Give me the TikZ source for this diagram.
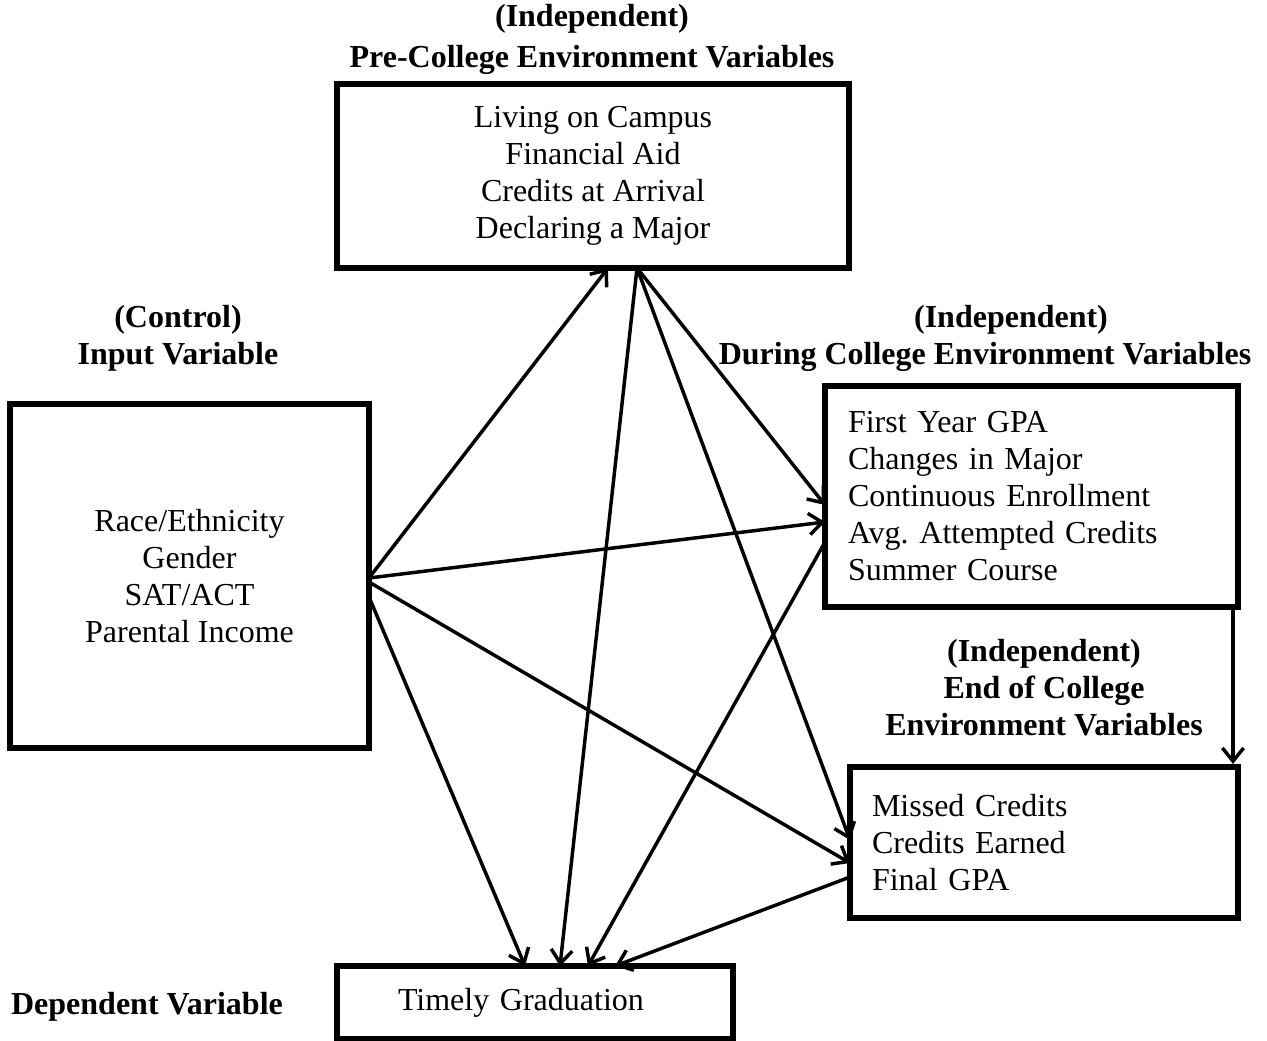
\documentclass[tikz,border=0pt]{standalone}
\usepackage{fontspec}
\setmainfont{Liberation Serif}
\usetikzlibrary{arrows.meta,calc}
\begin{document}
\frenchspacing
\begin{tikzpicture}[x=0.75pt,y=-0.75pt,
  box/.style={draw, line width=4pt, outer sep=0pt, inner sep=0pt,
    font=\fontsize{24}{27.75}\selectfont, align=center},
  ttl/.style={font=\fontsize{24}{27.75}\selectfont\bfseries, align=center, inner sep=0pt},
  arr/.style={line width=2.6pt, -{Straight Barb[length=10pt,width=16pt]}}]
\useasboundingbox (0,0) rectangle (1267,1041);
% boxes
\node[box, minimum width=384pt, minimum height=138pt] (pre) at (593,176)
  {Living on Campus\\Financial Aid\\Credits at Arrival\\Declaring a Major};
\node[box, minimum width=269.25pt, minimum height=258pt] (inp) at (189.5,576)
  {Race/Ethnicity\\Gender\\SAT/ACT\\Parental Income};
\node[box, align=left, text width=275.25pt, inner xsep=17.25pt, minimum height=165.75pt] (dur) at (1031.5,496.5)
  {First Year GPA\\Changes in Major\\Continuous Enrollment\\Avg. Attempted Credits\\Summer Course};
\node[box, align=left, text width=258pt, inner xsep=16.5pt, minimum height=113.25pt] (end) at (1044,842.5)
  {Missed Credits\\Credits Earned\\Final GPA};
\node[box, align=left, text width=205.5pt, inner xsep=45.75pt, minimum height=54.75pt] (tim) at (535,1002.5)
  {Timely Graduation};
% titles
\node[ttl] (tpre) at (592,39) {(Independent)\\[3pt]Pre-College Environment Variables};
\node[ttl] (tinp) at (178,338) {(Control)\\Input Variable};
\node[ttl] (tdura) at (1011,320) {(Independent)};
\node[ttl] (tdurb) at (985,357) {During College Environment Variables};
\node[ttl] (tend) at (1044,688) {(Independent)\\End of College\\Environment Variables};
\node[ttl] (tdep) at (147,1007) {Dependent Variable};
% connectors
\draw[arr] ($(inp.east)+(0,2)$) -- ($(pre.south)+(15,0)$);
\draw[arr] ($(inp.east)+(0,2)$) -- ($(dur.west)+(0,25.5)$);
\draw[arr] ($(inp.east)+(0,6)$) -- ($(end.west)+(0,20.5)$);
\draw[arr] ($(inp.east)+(0,21)$) -- ($(tim.north)+(-10,0)$);
\draw[arr] ($(pre.south)+(44,0)$) -- ($(tim.north)+(25,0)$);
\draw[arr] ($(pre.south)+(44,0)$) -- ($(dur.west)+(0,8.5)$);
\draw[arr] ($(pre.south)+(44,0)$) -- ($(end.west)+(0,-2.5)$);
\draw[arr] ($(dur.west)+(0,45.5)$) -- ($(tim.north)+(53,0)$);
\draw[arr] ($(end.west)+(0,34.5)$) -- ($(tim.north)+(80,0)$);
\draw[arr] ($(dur.south east)+(-5,0)$) -- ($(end.north east)+(-5,-3)$);
\end{tikzpicture}
\end{document}
